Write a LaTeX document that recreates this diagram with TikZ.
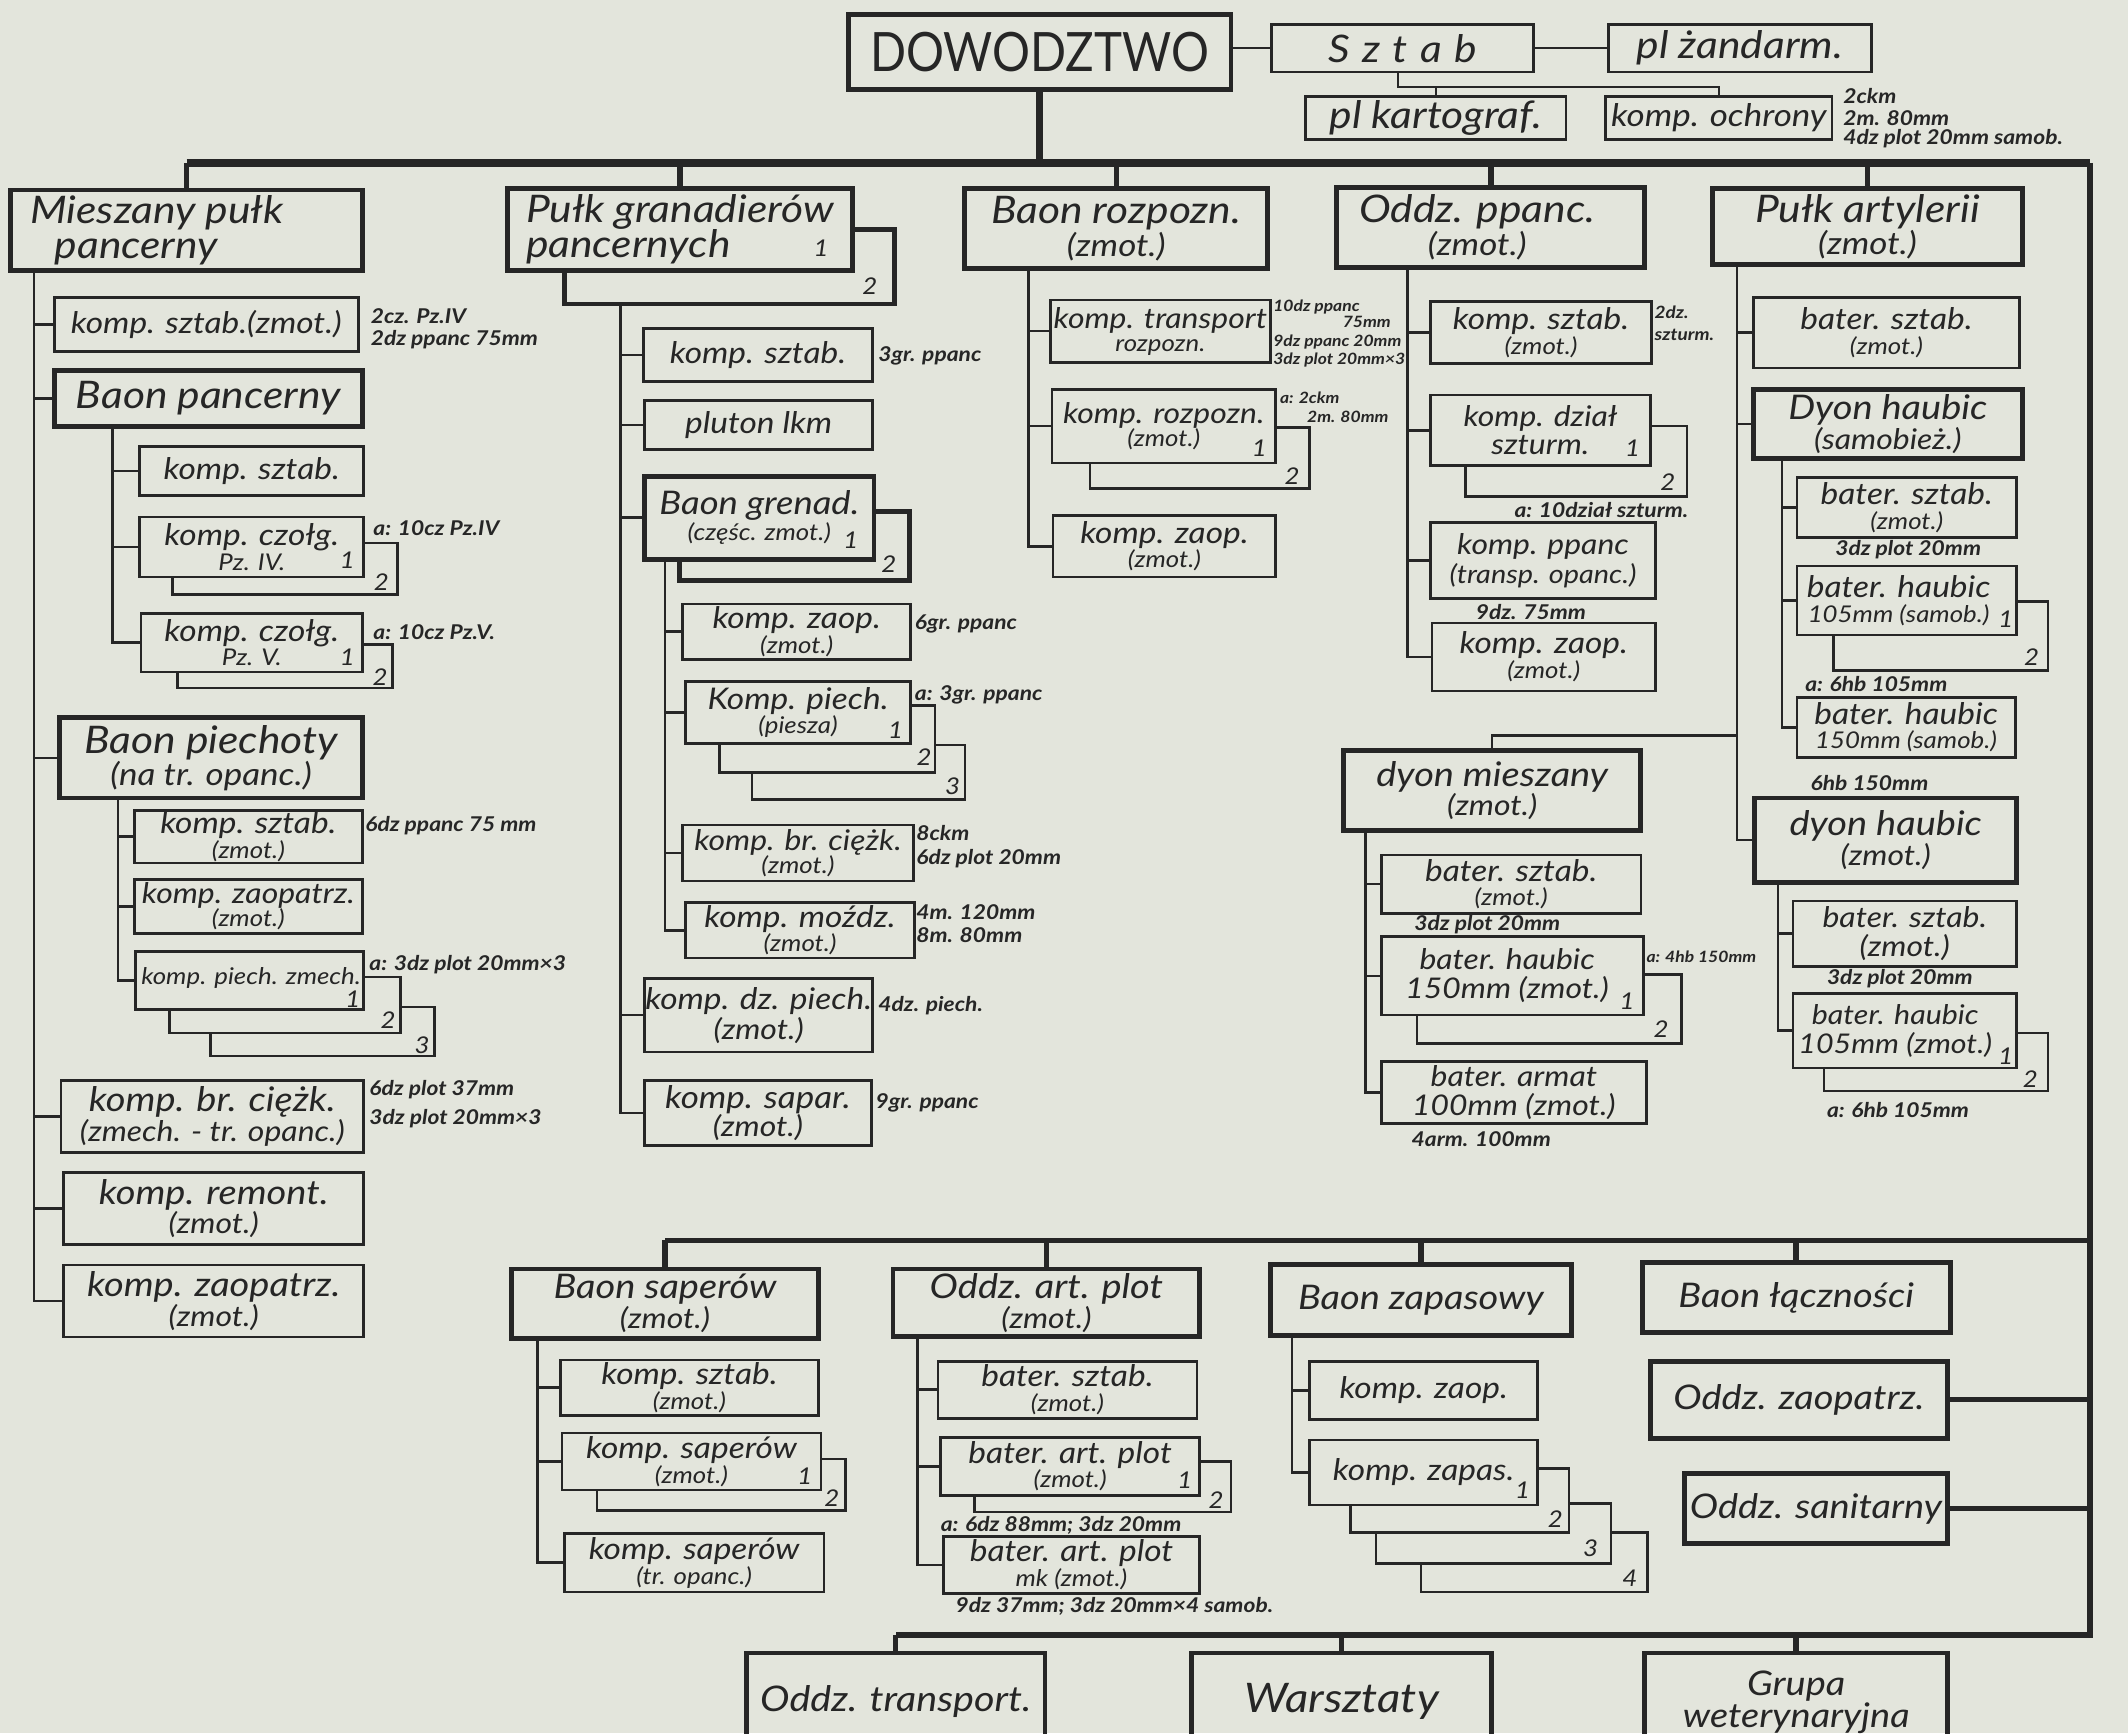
\documentclass[tikz,border=0pt]{standalone}
\usepackage{fontspec}
\usepackage{graphicx}
\setmainfont{Lato}[FakeStretch=1.12]
\definecolor{inkc}{HTML}{262626}
\definecolor{paper}{HTML}{E3E5DC}
\newcommand\FBig{\itshape\fontsize{28}{24}\selectfont}
\newcommand\FBigSub{\fontsize{23}{24}\selectfont}
\newcommand\FMedL{\itshape\fontsize{25}{22}\selectfont}
\newcommand\FMedLSub{\fontsize{21}{22}\selectfont}
\newcommand\FMed{\itshape\fontsize{22}{18}\selectfont}
\newcommand\FMedS{\itshape\fontsize{21}{17}\selectfont}
\newcommand\FEq{\itshape\fontsize{21}{21}\selectfont}
\newcommand\FSub{\fontsize{17}{17}\selectfont}
\newcommand\FAnn{\bfseries\itshape\fontsize{15}{15}\selectfont}
\newcommand\FAnnS{\bfseries\itshape\fontsize{11.5}{11}\selectfont}
\newcommand\FNum{\itshape\fontsize{17}{17}\selectfont}
\newcommand\FDow{\upshape\fontsize{40}{40}\selectfont}
\newcommand\ubox[7][]{%
 \node[bx,minimum width={(#5)-(#3)},minimum height={(#6)-(#4)}] (#2) at ({((#3)+(#5))/2},{((#4)+(#6))/2}) {};%
 \node[tx,font=\FMed,#1] (#2t) at (#2.center) {#7};}
\newcommand\tbox[7][]{%
 \node[bxt,minimum width={(#5)-(#3)},minimum height={(#6)-(#4)}] (#2) at ({((#3)+(#5))/2},{((#4)+(#6))/2}) {};%
 \node[tx,font=\FBig,#1] (#2t) at (#2.center) {#7};}
\tikzset{
 bx/.style={draw=inkc, line width=1.9pt, inner sep=0pt, outer sep=0pt},
 bxt/.style={draw=inkc, line width=3.6pt, inner sep=0pt, outer sep=0pt},
 tx/.style={text=inkc, align=center, inner sep=0pt},
 conn/.style={draw=inkc, line width=1.9pt},
 tconn/.style={draw=inkc, line width=3.6pt},
 busl/.style={draw=inkc, line width=5.5pt},
 vbus/.style={draw=inkc, line width=4.5pt},
 midbus/.style={draw=inkc, line width=4pt},
 dropl/.style={draw=inkc, line width=4pt},
 num/.style={text=inkc, font=\FNum, inner sep=0pt},
 ann/.style={text=inkc, font=\FAnn, inner sep=0pt, anchor=west},
 anns/.style={ann, font=\FAnnS},
}
\begin{document}
\begin{tikzpicture}[x=1pt,y=-1pt]
\useasboundingbox (0,0) rectangle (1568,1277);
\clip (0,0) rectangle (1568,1277);
\fill[paper] (0,0) rectangle (1568,1277);

% ---------- top ----------
\tbox[font=\FDow]{dow}{625}{11}{907}{66}{\scalebox{0.78}[1]{DOWODZTWO}}
\ubox[font=\FBig]{sztab}{937}{18}{1130}{53}{S\hspace{9pt}z\hspace{9pt}t\hspace{9pt}a\hspace{9pt}b}
\ubox[font=\FBig]{zand}{1185}{18}{1379}{53}{pl żandarm.}
\ubox[font=\FBig]{kart}{962}{71}{1154}{103}{pl kartograf.}
\ubox[font=\itshape\fontsize{23}{20}\selectfont]{ochr}{1183}{71}{1350}{103}{komp. ochrony}
\node[ann] (ochA) at (1358,71) {2ckm};
\node[ann] (ochB) at (1358,87) {2m. 80mm};
\node[ann] (ochC) at (1358,102) {4dz plot 20mm samob.};

% ---------- row 1 ----------
\tbox[align=left,xshift=-22pt,font=\itshape\fontsize{28}{26}\selectfont]{mpp}{8}{140}{267}{199}{Mieszany pułk\\\hspace*{18pt}pancerny}
\tbox[align=left,font=\itshape\fontsize{28}{26}\selectfont]{pgp}{374}{139}{628}{199}{Pułk granadierów\\pancernych}
\node[num] (pgpn1) at (605,183) {1};
\draw[tconn] (628,169) -- (659,169) -- (659,224) -- (416,224) -- (416,199);
\node[num] (pgpn2) at (641,211) {2};
\tbox{bro}{711}{139}{934}{198}{Baon rozpozn.\\{\FBigSub (zmot.)}}
\tbox[xshift=-10pt]{opp}{985}{138}{1212}{197}{Oddz. ppanc.\\{\FBigSub (zmot.)}}
\tbox{part}{1262}{139}{1490}{195}{Pułk artylerii\\{\FBigSub (zmot.)}}

% ---------- column 1 ----------
\ubox{c1a}{40}{219}{264}{259}{komp. sztab.(zmot.)}
\node[ann] (c1aA) at (273,233) {2cz. Pz.IV};
\node[ann] (c1aB) at (273,250) {2dz ppanc 75mm};
\tbox{c1b}{40}{273}{267}{314}{Baon pancerny}
\ubox{c1b1}{103}{329}{268}{365}{komp. sztab.}
\ubox{c1b2}{103}{381}{268}{425}{komp. czołg.\\{\FSub Pz. IV.}}
\node[num] (c1b2n1) at (256,413) {1};
\draw[conn] (268,400) -- (293,400) -- (293,438) -- (127,438) -- (127,425);
\node[num] (c1b2n2) at (281,429) {2};
\node[ann] (c1b2A) at (275,389) {a: 10cz Pz.IV};
\ubox{c1b3}{104}{452}{267}{495}{komp. czołg.\\{\FSub Pz. V.}}
\node[num] (c1b3n1) at (256,484) {1};
\draw[conn] (267,475) -- (289,475) -- (289,507) -- (131,507) -- (131,495);
\node[num] (c1b3n2) at (280,499) {2};
\node[ann] (c1b3A) at (275,466) {a: 10cz Pz.V.};
\tbox{c1c}{44}{529}{267}{588}{Baon piechoty\\{\FBigSub (na tr. opanc.)}}
\ubox{c1c1}{99}{597}{267}{636}{komp. sztab.\\{\FSub (zmot.)}}
\node[ann] (c1c1A) at (269,608) {6dz ppanc 75 mm};
\ubox[font=\FMedS]{c1c2}{99}{648}{267}{688}{komp. zaopatrz.\\{\FSub (zmot.)}}
\ubox[font=\itshape\fontsize{17}{17}\selectfont,xshift=1pt,yshift=2pt]{c1c3}{100}{701}{268}{744}{komp. piech. zmech.}
\node[num] (c1c3n1) at (260,736) {1};
\draw[conn] (268,720) -- (295,720) -- (295,761) -- (125,761) -- (125,744);
\node[num] (c1c3n2) at (286,752) {2};
\draw[conn] (295,742) -- (320,742) -- (320,778) -- (155,778) -- (155,761);
\node[num] (c1c3n3) at (311,770) {3};
\node[ann] (c1c3A) at (272,711) {a: 3dz plot 20mm×3};
\ubox[font=\FMedL]{c1d}{45}{796}{268}{849}{komp. br. ciężk.\\{\FMedLSub (zmech. - tr. opanc.)}}
\node[ann] (c1dA) at (272,803) {6dz plot 37mm};
\node[ann] (c1dB) at (272,824) {3dz plot 20mm×3};
\ubox[font=\FMedL]{c1e}{47}{864}{268}{917}{komp. remont.\\{\FMedLSub (zmot.)}}
\ubox[font=\FMedL]{c1f}{47}{932}{268}{985}{komp. zaopatrz.\\{\FMedLSub (zmot.)}}

% ---------- column 2 ----------
\ubox{c2a}{474}{242}{643}{281}{komp. sztab.}
\node[ann] (c2aA) at (647,262) {3gr. ppanc};
\ubox{c2b}{475}{295}{643}{331}{pluton lkm}
\tbox[font=\itshape\fontsize{24}{19}\selectfont]{c2c}{475}{351}{644}{412}{Baon grenad.\\{\FSub (częśc. zmot.)}}
\node[num] (c2cn1) at (627,398) {1};
\draw[tconn] (644,377) -- (670,377) -- (670,428) -- (501,428) -- (501,412);
\node[num] (c2cn2) at (655,416) {2};
\ubox{c2c1}{503}{445}{671}{486}{komp. zaop.\\{\FSub (zmot.)}}
\node[ann] (c2c1A) at (674,460) {6gr. ppanc};
\ubox{c2c2}{505}{502}{671}{548}{Komp. piech.\\{\FSub (piesza)}}
\node[num] (c2c2n1) at (660,538) {1};
\draw[conn] (671,520) -- (689,520) -- (689,569) -- (530,569) -- (530,548);
\node[num] (c2c2n2) at (681,558) {2};
\draw[conn] (689,549) -- (711,549) -- (711,589) -- (554,589) -- (554,569);
\node[num] (c2c2n3) at (702,579) {3};
\node[ann] (c2c2A) at (674,512) {a: 3gr. ppanc};
\ubox[font=\FMedS]{c2c3}{503}{608}{673}{649}{komp. br. ciężk.\\{\FSub (zmot.)}}
\node[ann] (c2c3A) at (675,614) {8ckm};
\node[ann] (c2c3B) at (675,633) {6dz plot 20mm};
\ubox{c2c4}{505}{665}{674}{706}{komp. moźdz.\\{\FSub (zmot.)}}
\node[ann] (c2c4A) at (675,672) {4m. 120mm};
\node[ann] (c2c4B) at (675,689) {8m. 80mm};
\ubox[font=\itshape\fontsize{22}{22}\selectfont]{c2d}{475}{721}{643}{775}{komp. dz. piech.\\{\FMedLSub (zmot.)}}
\node[ann] (c2dA) at (647,741) {4dz. piech.};
\ubox[font=\itshape\fontsize{23}{21}\selectfont]{c2e}{475}{796}{642}{844}{komp. sapar.\\{\FMedLSub (zmot.)}}
\node[ann] (c2eA) at (645,813) {9gr. ppanc};

% ---------- column 3 ----------
\ubox[font=\FMedS]{c3a}{774}{221}{936}{267}{komp. transport\\{\FSub rozpozn.}}
\node[anns] (c3aA) at (938,226) {10dz ppanc};
\node[anns,anchor=east] (c3aB) at (1025,237) {75mm};
\node[anns] (c3aC) at (938,252) {9dz ppanc 20mm};
\node[anns] (c3aD) at (938,265) {3dz plot 20mm×3};
\ubox[font=\FMedS]{c3b}{775}{287}{940}{341}{komp. rozpozn.\\{\FSub (zmot.)}}
\node[num] (c3bn1) at (928,330) {1};
\draw[conn] (940,315) -- (965,315) -- (965,360) -- (803,360) -- (803,341);
\node[num] (c3bn2) at (952,351) {2};
\node[anns] (c3bA) at (943,293) {a: 2ckm};
\node[anns] (c3bB) at (963,307) {2m. 80mm};
\ubox{c3c}{776}{380}{940}{425}{komp. zaop.\\{\FSub (zmot.)}}

% ---------- column 4 ----------
\ubox{c4a}{1054}{222}{1217}{268}{komp. sztab.\\{\FSub (zmot.)}}
\node[anns,font=\bfseries\itshape\fontsize{12.5}{12}\selectfont] (c4aA) at (1219,230) {2dz.};
\node[anns,font=\bfseries\itshape\fontsize{12.5}{12}\selectfont] (c4aB) at (1219,247) {szturm.};
\ubox[font=\FEq]{c4b}{1054}{291}{1216}{343}{komp. dział\\szturm.}
\node[num] (c4bn1) at (1203,330) {1};
\draw[conn] (1216,314) -- (1243,314) -- (1243,366) -- (1080,366) -- (1080,343);
\node[num] (c4bn2) at (1229,355) {2};
\node[ann,anchor=center] (c4bA) at (1180,376) {a: 10dział szturm.};
\ubox[font=\FEq]{c4c}{1054}{385}{1220}{441}{komp. ppanc\\{\fontsize{19}{21}\selectfont (transp. opanc.)}}
\node[ann,anchor=center] (c4cA) at (1128,451) {9dz. 75mm};
\ubox{c4d}{1055}{459}{1220}{509}{komp. zaop.\\{\FSub (zmot.)}}

% ---------- column 5 ----------
\ubox{c5a}{1292}{219}{1488}{271}{bater. sztab.\\{\FSub (zmot.)}}
\tbox[font=\FMedL]{c5b}{1292}{287}{1490}{338}{Dyon haubic\\{\FMedLSub (samobież.)}}
\ubox{c5b1}{1324}{352}{1486}{396}{bater. sztab.\\{\FSub (zmot.)}}
\node[ann,anchor=center] (c5b1A) at (1406,405) {3dz plot 20mm};
\ubox[xshift=-6pt]{c5b2}{1324}{417}{1486}{468}{bater. haubic\\{\FSub 105mm (samob.)}}
\node[num] (c5b2n1) at (1478,456) {1};
\draw[conn] (1486,443) -- (1509,443) -- (1509,494) -- (1351,494) -- (1351,468);
\node[num] (c5b2n2) at (1497,484) {2};
\node[ann] (c5b2A) at (1330,504) {a: 6hb 105mm};
\ubox{c5b3}{1324}{514}{1485}{558}{bater. haubic\\{\FSub 150mm (samob.)}}
\node[ann] (c5b3A) at (1334,577) {6hb 150mm};
\tbox[font=\FMedL]{c5c}{990}{553}{1209}{612}{dyon mieszany\\{\FMedLSub (zmot.)}}
\ubox{c5c1}{1018}{630}{1209}{673}{bater. sztab.\\{\FSub (zmot.)}}
\node[ann] (c5c1A) at (1042,681) {3dz plot 20mm};
\ubox[font=\FEq,xshift=-4pt]{c5c2}{1018}{690}{1211}{748}{bater. haubic\\150mm (zmot.)}
\node[num] (c5c2n1) at (1199,738) {1};
\draw[conn] (1211,718) -- (1239,718) -- (1239,769) -- (1044,769) -- (1044,748);
\node[num] (c5c2n2) at (1224,758) {2};
\node[anns] (c5c2A) at (1213,705) {a: 4hb 150mm};
\ubox[font=\FEq]{c5c3}{1018}{782}{1213}{828}{bater. armat\\100mm (zmot.)}
\node[ann] (c5c3A) at (1040,839) {4arm. 100mm};
\tbox[font=\FMedL]{c5d}{1293}{588}{1486}{650}{dyon haubic\\{\FMedLSub (zmot.)}}
\ubox[font=\FEq]{c5d1}{1321}{664}{1486}{712}{bater. sztab.\\(zmot.)}
\node[ann] (c5d1A) at (1346,721) {3dz plot 20mm};
\ubox[font=\itshape\fontsize{20}{21}\selectfont,xshift=-7pt]{c5d2}{1321}{732}{1486}{787}{bater. haubic\\105mm (zmot.)}
\node[num] (c5d2n1) at (1478,778) {1};
\draw[conn] (1486,761) -- (1509,761) -- (1509,804) -- (1344,804) -- (1344,787);
\node[num] (c5d2n2) at (1496,795) {2};
\node[ann] (c5d2A) at (1346,818) {a: 6hb 105mm};

% ---------- bottom ----------
\tbox[font=\FMedL]{sap}{377}{935}{603}{986}{Baon saperów\\{\FMedLSub (zmot.)}}
\ubox{s1}{413}{1002}{603}{1043}{komp. sztab.\\{\FSub (zmot.)}}
\ubox{s2}{414}{1056}{605}{1098}{komp. saperów\\{\FSub (zmot.)}}
\node[num] (s2n1) at (593,1088) {1};
\draw[conn] (605,1075) -- (623,1075) -- (623,1113) -- (440,1113) -- (440,1098);
\node[num] (s2n2) at (613,1104) {2};
\ubox{s3}{416}{1130}{607}{1173}{komp. saperów\\{\FSub (tr. opanc.)}}
\tbox[font=\FMedL]{aap}{658}{935}{884}{985}{Oddz. art. plot\\{\FMedLSub (zmot.)}}
\ubox{a1}{691}{1003}{882}{1045}{bater. sztab.\\{\FSub (zmot.)}}
\ubox{a2}{693}{1059}{884}{1102}{bater. art. plot\\{\FSub (zmot.)}}
\node[num] (a2n1) at (873,1091) {1};
\draw[conn] (884,1077) -- (907,1077) -- (907,1114) -- (718,1114) -- (718,1102);
\node[num] (a2n2) at (896,1105) {2};
\node[ann] (a2A) at (693,1124) {a: 6dz 88mm; 3dz 20mm};
\ubox{a3}{695}{1132}{884}{1174}{bater. art. plot\\{\FSub mk (zmot.)}}
\node[ann] (a3A) at (704,1184) {9dz 37mm; 3dz 20mm×4 samob.};
\tbox[font=\FMedL]{zap}{936}{932}{1158}{984}{Baon zapasowy}
\ubox{z1}{965}{1003}{1133}{1046}{komp. zaop.}
\ubox{z2}{965}{1061}{1133}{1109}{komp. zapas.}
\node[num] (z2n1) at (1122,1098) {1};
\draw[conn] (1133,1082) -- (1156,1082) -- (1156,1129) -- (995,1129) -- (995,1109);
\node[num] (z2n2) at (1146,1119) {2};
\draw[conn] (1156,1108) -- (1187,1108) -- (1187,1152) -- (1014,1152) -- (1014,1129);
\node[num] (z2n3) at (1172,1141) {3};
\draw[conn] (1187,1129) -- (1214,1129) -- (1214,1173) -- (1047,1173) -- (1047,1152);
\node[num] (z2n4) at (1201,1163) {4};
\tbox[font=\FMedL]{lacz}{1210}{930}{1437}{982}{Baon łączności}
\tbox[font=\FMedL]{zaopz}{1216}{1003}{1435}{1060}{Oddz. zaopatrz.}
\tbox[font=\FMedL]{san}{1241}{1086}{1435}{1137}{Oddz. sanitarny}
\tbox[font=\itshape\fontsize{26}{24}\selectfont]{trans}{550}{1218}{770}{1290}{Oddz. transport.}
\tbox[font=\itshape\fontsize{30}{24}\selectfont]{wars}{878}{1218}{1099}{1290}{Warsztaty}
\tbox[font=\itshape\fontsize{25}{22}\selectfont]{grupa}{1212}{1218}{1435}{1290}{Grupa\\weterynaryjna}

% ---------- connectors ----------
\coordinate (busL) at (137.5,120);
\coordinate (busR) at (1540,120);
\coordinate (busB) at (1540,1205);
\coordinate (midR) at (1540,914);
\coordinate (sb) at (1030,64);
\draw[conn] (dow.east |- sztab.west) -- (sztab.west);
\draw[conn] (sztab.east) -- (zand.west);
\draw[conn] (sztab.south -| sb) |- (ochr.north |- sb) -- (ochr.north);
\draw[conn] (kart.north |- sb) -- (kart.north);
\draw[busl] (dow.south) -- (dow.south |- busL);
\draw[busl] (busL) -- (busR);
\foreach \nn in {mpp,pgp,bro,opp,part} \draw[dropl] (\nn.north |- busL) -- (\nn.north);
\draw[vbus] (busR) -- (busB) -- (trans.north |- busB);
\foreach \nn in {trans,wars,grupa} \draw[dropl] (\nn.north |- busB) -- (\nn.north);
\draw[midbus] (sap.north |- midR) -- (midR);
\foreach \nn in {sap,aap,zap,lacz} \draw[dropl] (\nn.north |- midR) -- (\nn.north);
\draw[tconn] (zaopz.east) -- (zaopz.east -| busR);
\draw[tconn] (san.east) -- (san.east -| busR);

% column 1
\coordinate (v1) at (25,0);
\draw[conn] (mpp.south -| v1) |- (c1f.west);
\foreach \nn in {c1a,c1b,c1c,c1d,c1e} \draw[conn] (v1 |- \nn.west) -- (\nn.west);
\coordinate (v1b) at (83,0);
\draw[conn] (c1b.south -| v1b) |- (c1b3.west);
\foreach \nn in {c1b1,c1b2} \draw[conn] (v1b |- \nn.west) -- (\nn.west);
\coordinate (v1c) at (87,0);
\draw[conn] (c1c.south -| v1c) |- (c1c3.west);
\foreach \nn in {c1c1,c1c2} \draw[conn] (v1c |- \nn.west) -- (\nn.west);
% column 2
\coordinate (v2) at (457,224);
\draw[conn] (v2) |- (c2e.west);
\foreach \nn in {c2a,c2b,c2c,c2d} \draw[conn] (v2 |- \nn.west) -- (\nn.west);
\coordinate (v2c) at (490,0);
\draw[conn] (c2c.south -| v2c) |- (c2c4.west);
\foreach \nn in {c2c1,c2c2,c2c3} \draw[conn] (v2c |- \nn.west) -- (\nn.west);
% column 3
\coordinate (v3) at (758,0);
\draw[conn] (bro.south -| v3) |- (c3c.west);
\foreach \nn in {c3a,c3b} \draw[conn] (v3 |- \nn.west) -- (\nn.west);
% column 4
\coordinate (v4) at (1037,0);
\draw[conn] (opp.south -| v4) |- (c4d.west);
\foreach \nn in {c4a,c4b,c4c} \draw[conn] (v4 |- \nn.west) -- (\nn.west);
% column 5
\coordinate (v5) at (1280,0);
\coordinate (j5) at (1280,542);
\draw[conn] (part.south -| v5) |- (c5d.west);
\foreach \nn in {c5a,c5b} \draw[conn] (v5 |- \nn.west) -- (\nn.west);
\draw[conn] (j5) -| (c5c.north);
\coordinate (v5b) at (1313,0);
\draw[conn] (c5b.south -| v5b) |- (c5b3.west);
\foreach \nn in {c5b1,c5b2} \draw[conn] (v5b |- \nn.west) -- (\nn.west);
\coordinate (v5c) at (1006,0);
\draw[conn] (c5c.south -| v5c) |- (c5c3.west);
\foreach \nn in {c5c1,c5c2} \draw[conn] (v5c |- \nn.west) -- (\nn.west);
\coordinate (v5d) at (1310,0);
\draw[conn] (c5d.south -| v5d) |- (c5d2.west);
\draw[conn] (v5d |- c5d1.west) -- (c5d1.west);
% bottom trees
\coordinate (vs) at (396,0);
\draw[conn] (sap.south -| vs) |- (s3.west);
\foreach \nn in {s1,s2} \draw[conn] (vs |- \nn.west) -- (\nn.west);
\coordinate (va) at (676,0);
\draw[conn] (aap.south -| va) |- (a3.west);
\foreach \nn in {a1,a2} \draw[conn] (va |- \nn.west) -- (\nn.west);
\coordinate (vz) at (952,0);
\draw[conn] (zap.south -| vz) |- (z2.west);
\draw[conn] (vz |- z1.west) -- (z1.west);
\end{tikzpicture}
\end{document}
